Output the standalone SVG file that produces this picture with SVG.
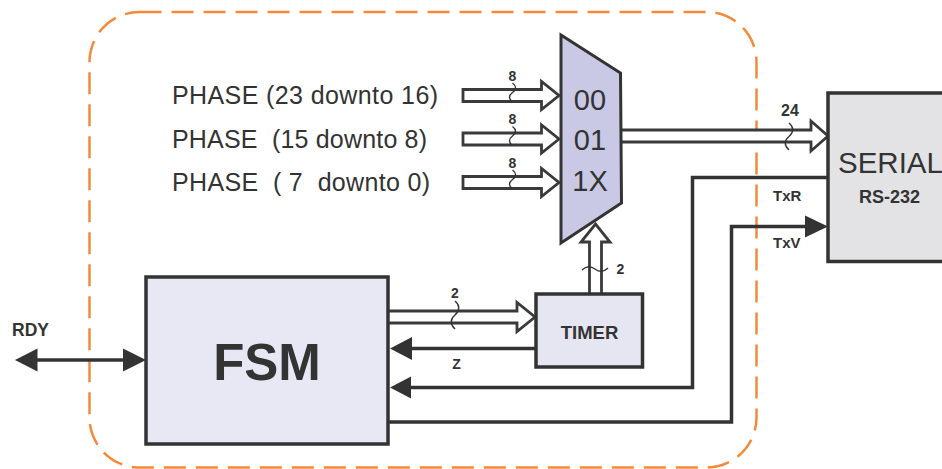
<svg xmlns="http://www.w3.org/2000/svg" width="942" height="469" viewBox="0 0 942 469">
<style>
  text { font-family: "Liberation Sans", Arial, sans-serif; fill: #333333; }
  .b { font-weight: bold; }
  .bus { fill: #ffffff; stroke: #3a3a3a; stroke-width: 2.8; stroke-linejoin: miter; }
  .sig { fill: none; stroke: #333333; stroke-width: 3.5; }
  .head { fill: #333333; stroke: none; }
  .brk { fill: none; stroke: #333333; stroke-width: 1.4; }
  .box { stroke: #333333; stroke-width: 3.5; }
  .ph { font-size: 25px; }
</style>
<rect width="942" height="469" fill="#ffffff"/>
<rect id="boundary" x="89.5" y="12" width="667" height="455.5" rx="50" ry="50" fill="none" stroke="#f4893a" stroke-width="2.5" stroke-dasharray="22 10"/>

<g id="connectors">
  <!-- input buses -->
  <path class="bus" d="M463,89.5 L541.5,89.5 L541.5,81.5 L559,95.5 L541.5,109.5 L541.5,101.5 L463,101.5 Z"/>
  <path class="bus" d="M463,133 L541.5,133 L541.5,125 L559,139 L541.5,153 L541.5,145 L463,145 Z"/>
  <path class="bus" d="M463,176.5 L541.5,176.5 L541.5,168.5 L559,182.5 L541.5,196.5 L541.5,188.5 L463,188.5 Z"/>
  <path class="brk" d="M512.5,83 c4,3 4,6.5 0,9.5 c-4,3 -4,6.5 0,9.5"/>
  <path class="brk" d="M512.5,126.5 c4,3 4,6.5 0,9.5 c-4,3 -4,6.5 0,9.5"/>
  <path class="brk" d="M512.5,170 c4,3 4,6.5 0,9.5 c-4,3 -4,6.5 0,9.5"/>
  <text class="b" x="512.5" y="80.5" font-size="14" text-anchor="middle">8</text>
  <text class="b" x="512.5" y="124" font-size="14" text-anchor="middle">8</text>
  <text class="b" x="512.5" y="167.5" font-size="14" text-anchor="middle">8</text>

  <!-- mux output bus -->
  <path class="bus" d="M621,130 L811,130 L811,121 L828,136 L811,151 L811,142 L621,142"/>
  <path class="brk" d="M789,123 c5,4 5,9 0,13.5 c-5,4 -5,9 0,13.5"/>
  <text class="b" x="790" y="115.5" font-size="16" text-anchor="middle">24</text>

  <!-- FSM to TIMER bus -->
  <path class="bus" d="M388,311 L517,311 L517,302.5 L535,317 L517,331.5 L517,323 L388,323"/>
  <path class="brk" d="M455,301 c5,4 5,9 0,14 c-5,4 -5,9 0,14"/>
  <text class="b" x="455" y="298" font-size="14" text-anchor="middle">2</text>

  <!-- TIMER to mux select -->
  <path class="bus" d="M589.5,294 L589.5,242 L581,242 L595.5,224 L610,242 L601.5,242 L601.5,294"/>
  <path class="brk" d="M582,270 c4,-4 9,-4 13,-1 c4,3 9,3 13,-1"/>
  <text class="b" x="620.5" y="274" font-size="14" text-anchor="middle">2</text>

  <!-- Z -->
  <path class="sig" d="M536,348.5 L408,348.5"/>
  <polygon class="head" points="390,348.5 412,337 412,360"/>
  <text class="b" x="456.5" y="369" font-size="14" text-anchor="middle">Z</text>

  <!-- TxR -->
  <path class="sig" d="M828,177.5 L692.5,177.5 L692.5,387.5 L408,387.5"/>
  <polygon class="head" points="390,387.5 411,376.5 411,398.5"/>
  <text class="b" x="773" y="200.5" font-size="15">TxR</text>

  <!-- TxV -->
  <path class="sig" d="M388,422 L731.5,422 L731.5,226.5 L808,226.5"/>
  <polygon class="head" points="828,226.5 805,215.5 805,237.5"/>
  <text class="b" x="773" y="248" font-size="15">TxV</text>

  <!-- RDY -->
  <path class="sig" d="M34,360 L126,360"/>
  <polygon class="head" points="15,360 37.5,348.5 37.5,371.5"/>
  <polygon class="head" points="146,360 123,348.5 123,371.5"/>
  <text class="b" x="12" y="336" font-size="17.5">RDY</text>
</g>

<g id="phase-labels">
  <text class="ph" x="172" y="104" textLength="266" lengthAdjust="spacing">PHASE (23 downto 16)</text>
  <text class="ph" x="172" y="147.5" xml:space="preserve" textLength="255" lengthAdjust="spacing">PHASE  (15 downto 8)</text>
  <text class="ph" x="172" y="191" xml:space="preserve" textLength="258" lengthAdjust="spacing">PHASE  ( 7  downto 0)</text>
</g>

<g id="mux">
  <polygon points="561,35 620.5,73 621.5,203 561,243" fill="#c9c9e5" stroke="#333333" stroke-width="3" stroke-linejoin="miter"/>
  <text x="590" y="110" font-size="29" text-anchor="middle">00</text>
  <text x="590" y="150" font-size="29" text-anchor="middle">01</text>
  <text x="590" y="191" font-size="29" text-anchor="middle">1X</text>
</g>

<g id="serial">
  <rect class="box" x="828" y="93" width="130" height="168.5" fill="#e3e3e6"/>
  <text x="838" y="173" font-size="29.5">SERIAL</text>
  <text class="b" x="889.5" y="203" font-size="18" text-anchor="middle">RS-232</text>
</g>

<g id="timer">
  <rect class="box" x="536" y="294" width="106.5" height="73" fill="#e6e6f2"/>
  <text class="b" x="589.5" y="338.5" font-size="18.5" text-anchor="middle">TIMER</text>
</g>

<g id="fsm">
  <rect class="box" x="146" y="277" width="242" height="167" fill="#e8e8f4" stroke-width="4"/>
  <text class="b" x="267" y="380" font-size="51" text-anchor="middle">FSM</text>
</g>
</svg>
